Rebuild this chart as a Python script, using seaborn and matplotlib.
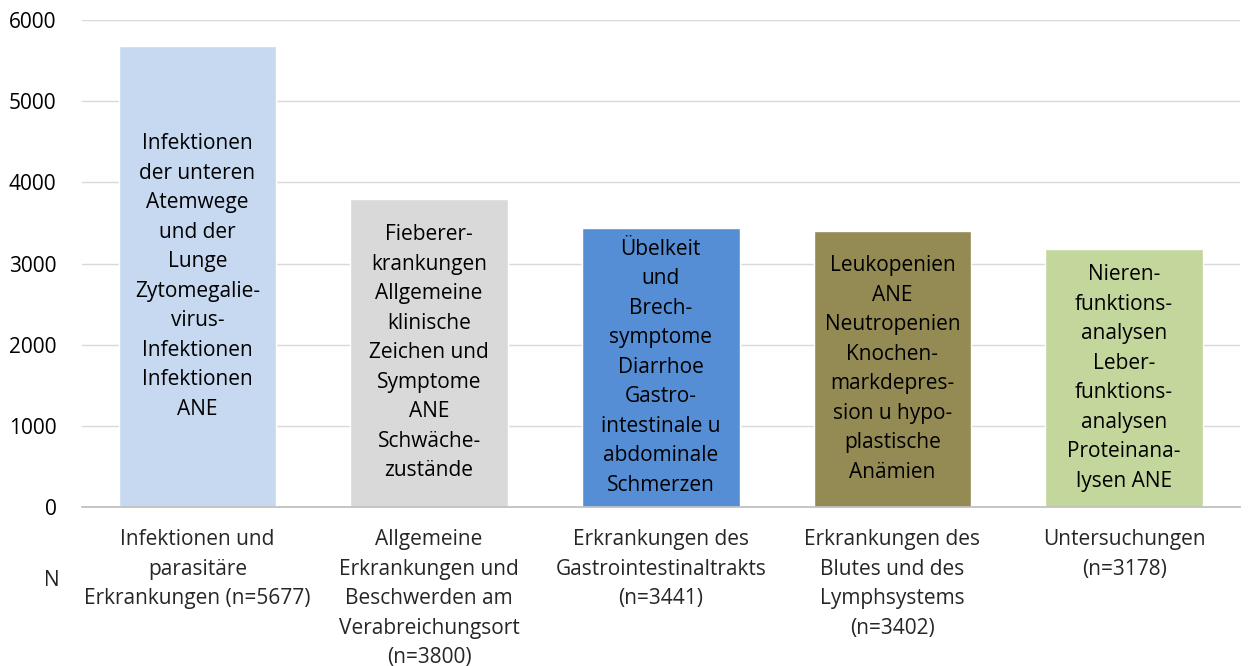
import matplotlib
matplotlib.use("Agg")
import matplotlib.pyplot as plt
import seaborn as sns
import pandas as pd

categories = [
    "Infektionen und\nparasitäre\nErkrankungen (n=5677)",
    "Allgemeine\nErkrankungen und\nBeschwerden am\nVerabreichungsort\n(n=3800)",
    "Erkrankungen des\nGastrointestinaltrakts\n(n=3441)",
    "Erkrankungen des\nBlutes und des\nLymphsystems\n(n=3402)",
    "Untersuchungen\n(n=3178)",
]
values = [5677, 3800, 3441, 3402, 3178]
inner_labels = [
    "Infektionen\nder unteren\nAtemwege\nund der\nLunge\nZytomegalie-\nvirus-\nInfektionen\nInfektionen\nANE",
    "Fieberer-\nkrankungen\nAllgemeine\nklinische\nZeichen und\nSymptome\nANE\nSchwäche-\nzustände",
    "Übelkeit\nund\nBrech-\nsymptome\nDiarrhoe\nGastro-\nintestinale u\nabdominale\nSchmerzen",
    "Leukopenien\nANE\nNeutropenien\nKnochen-\nmarkdepres-\nsion u hypo-\nplastische\nAnämien",
    "Nieren-\nfunktions-\nanalysen\nLeber-\nfunktions-\nanalysen\nProteinana-\nlysen ANE",
]
colors = ["#C6D9F1", "#D9D9D9", "#558ED5", "#948A54", "#C3D69B"]
yticks = [0, 1000, 2000, 3000, 4000, 5000, 6000]

sns.set_theme(style="white")
plt.rcParams["font.family"] = ["Open Sans", "DejaVu Sans"]

FS = 15
LS = 1.53

df = pd.DataFrame({"cat": categories, "val": values})

fig = plt.figure(figsize=(12.55, 6.66), dpi=100)
ax = fig.add_axes([0.065, 0.2387, 0.923, 0.7313])
sns.barplot(data=df, x="cat", y="val", hue="cat", palette=colors,
            width=0.68, legend=False, ax=ax, saturation=1)

ax.set_ylim(0, 6000)
ax.set_yticks(yticks)
ax.set_yticklabels([str(t) for t in yticks], fontsize=FS, color="#000000")
ax.yaxis.grid(True, color="#D9D9D9", linewidth=1)
ax.set_axisbelow(True)
for s in ["left", "right", "top"]:
    ax.spines[s].set_visible(False)
ax.spines["bottom"].set_color("#BFBFBF")
ax.tick_params(axis="y", length=0, pad=18)
ax.tick_params(axis="x", length=0, pad=16)
ax.set_xticks(range(len(categories)))
ax.set_xticklabels(categories, fontsize=FS, linespacing=LS, va="top")
ax.set_xlabel("")
ax.set_ylabel("")

for i, (v, lab) in enumerate(zip(values, inner_labels)):
    ax.text(i, v / 2, lab, ha="center", va="center", fontsize=FS,
            linespacing=LS, color="#000000")

fig.text(52 / 1255, 1 - 580 / 666, "N", ha="center", va="center", fontsize=FS)

fig.savefig("out.png", dpi=100)
